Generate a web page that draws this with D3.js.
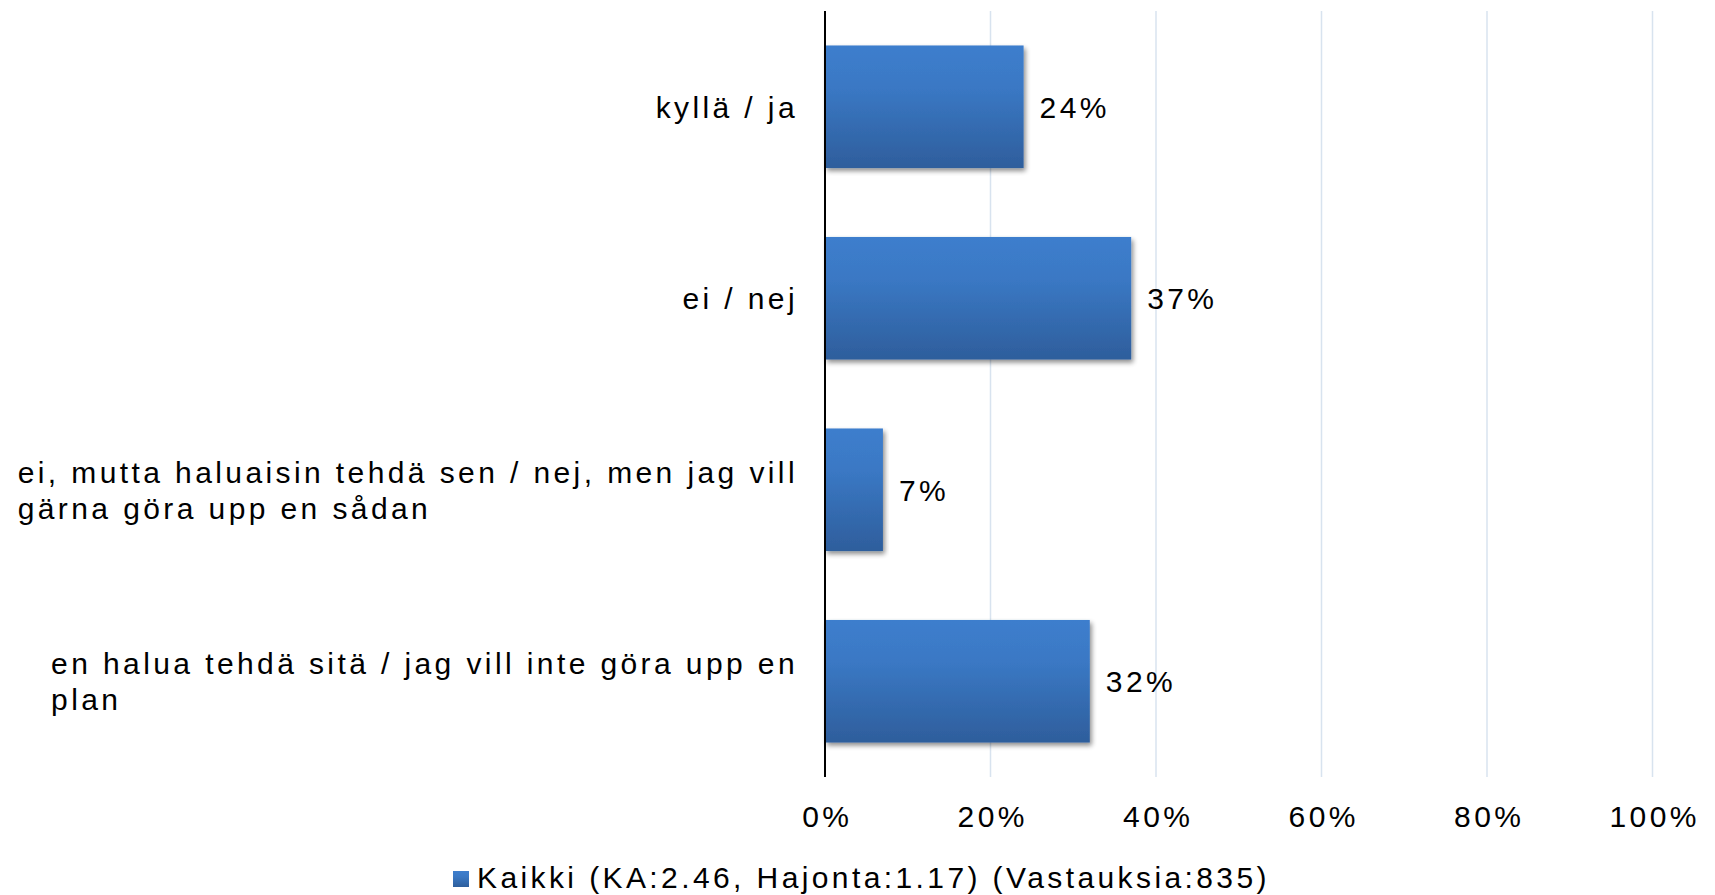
<!DOCTYPE html>
<html>
<head>
<meta charset="utf-8">
<title>Kaikki</title>
<script src="https://cdnjs.cloudflare.com/ajax/libs/d3/7.8.5/d3.min.js"></script>
<style>
  body { margin: 0; background: #fff; }
  text { font-family: "Liberation Sans", Arial, sans-serif; fill: #000; }
</style>
</head>
<body>
<script>
// data
var categories = [
  "kyllä / ja",
  "ei / nej",
  "ei, mutta haluaisin tehdä sen / nej, men jag vill gärna göra upp en sådan",
  "en halua tehdä sitä / jag vill inte göra upp en plan"
];
var values = [24, 37, 7, 32];
var ticks = [0, 20, 40, 60, 80, 100];
var seriesName = "Kaikki (KA:2.46, Hajonta:1.17) (Vastauksia:835)";

// size
var w = 1715, h = 895;
var margin = {top: 11, right: 62.5, bottom: 118, left: 825};
var fontSize = 30, spacing = 3.4;

var svg = d3.select("body").append("svg")
  .attr("width", w)
  .attr("height", h);

var defs = svg.append("defs");
var grad = defs.append("linearGradient")
  .attr("id", "barGrad")
  .attr("x1", 0).attr("y1", 0).attr("x2", 0).attr("y2", 1);
grad.append("stop").attr("offset", "0%").attr("stop-color", "#3d7ecd");
grad.append("stop").attr("offset", "35%").attr("stop-color", "#3a78c4");
grad.append("stop").attr("offset", "100%").attr("stop-color", "#2e5e9c");

var shadow = defs.append("filter").attr("id", "shadow")
  .attr("x", "-5%").attr("y", "-5%").attr("width", "115%").attr("height", "125%");
shadow.append("feGaussianBlur").attr("in", "SourceAlpha").attr("stdDeviation", 2.5).attr("result", "b");
shadow.append("feOffset").attr("in", "b").attr("dx", 2).attr("dy", 3).attr("result", "o");
shadow.append("feComponentTransfer").attr("in", "o").attr("result", "s")
  .append("feFuncA").attr("type", "linear").attr("slope", 0.45);
var merge = shadow.append("feMerge");
merge.append("feMergeNode").attr("in", "s");
merge.append("feMergeNode").attr("in", "SourceGraphic");

var x = d3.scaleLinear()
  .domain([0, 100])
  .range([margin.left, w - margin.right]);

var y = d3.scaleBand()
  .domain(categories)
  .range([margin.top, h - margin.bottom])
  .paddingInner(0.36)
  .paddingOuter(0.18);

// gridlines
svg.append("g")
  .selectAll("line")
  .data(ticks.filter(function(t) { return t > 0; }))
  .enter().append("line")
  .attr("x1", function(d) { return x(d); })
  .attr("x2", function(d) { return x(d); })
  .attr("y1", margin.top)
  .attr("y2", h - margin.bottom)
  .attr("stroke", "#d8e3ef")
  .attr("stroke-width", 1.5);

// x axis labels
var xAxis = d3.axisBottom(x)
  .tickValues(ticks)
  .tickFormat(function(d) { return d + "%"; })
  .tickSize(0)
  .tickPadding(0);
var gx = svg.append("g")
  .attr("transform", "translate(0," + (h - margin.bottom) + ")")
  .call(xAxis);
gx.select(".domain").remove();
gx.selectAll("text")
  .attr("font-size", fontSize)
  .attr("letter-spacing", spacing)
  .attr("dx", spacing / 2)
  .attr("y", 50)
  .attr("dy", 0)
  .style("font-family", "'Liberation Sans', Arial, sans-serif")
  .attr("fill", "#000");

// bars
svg.append("g")
  .selectAll("rect")
  .data(values)
  .enter().append("rect")
  .attr("x", x(0))
  .attr("y", function(d, i) { return y(categories[i]); })
  .attr("width", function(d) { return x(d) - x(0); })
  .attr("height", y.bandwidth())
  .attr("fill", "url(#barGrad)")
  .attr("filter", "url(#shadow)");

// value labels
svg.append("g")
  .selectAll("text")
  .data(values)
  .enter().append("text")
  .attr("x", function(d) { return x(d) + 16; })
  .attr("y", function(d, i) { return y(categories[i]) + y.bandwidth() / 2 + 11; })
  .attr("font-size", fontSize)
  .attr("letter-spacing", spacing)
  .text(function(d) { return d + "%"; });

// vertical axis line
svg.append("line")
  .attr("x1", x(0)).attr("x2", x(0))
  .attr("y1", margin.top).attr("y2", h - margin.bottom)
  .attr("stroke", "#000")
  .attr("stroke-width", 2);

// category labels, wrapped, block right aligned
var labelRight = 798, maxWidth = 810, lineH = 36;
categories.forEach(function(cat) {
  var t = svg.append("text")
    .attr("font-size", fontSize)
    .attr("letter-spacing", spacing);
  var words = cat.split(" ");
  var lines = [], line = [];
  var probe = t.append("tspan");
  words.forEach(function(wd) {
    line.push(wd);
    probe.text(line.join(" "));
    if (probe.node().getComputedTextLength() > maxWidth && line.length > 1) {
      line.pop();
      lines.push(line.join(" "));
      line = [wd];
    }
  });
  lines.push(line.join(" "));
  probe.remove();

  var widths = lines.map(function(l) {
    var s = t.append("tspan").text(l);
    var wd = s.node().getComputedTextLength();
    s.remove();
    return wd;
  });
  var bw = d3.max(widths);
  var cy = y(cat) + y.bandwidth() / 2;
  var n = lines.length;
  lines.forEach(function(l, i) {
    t.append("tspan")
      .attr("x", labelRight - bw)
      .attr("y", cy + 11 + (i - (n - 1) / 2) * lineH)
      .text(l);
  });
});

// legend
var leg = svg.append("g").attr("transform", "translate(453,871)");
leg.append("rect")
  .attr("width", 16).attr("height", 16)
  .attr("fill", "url(#barGrad)");
leg.append("text")
  .attr("x", 24)
  .attr("y", 17)
  .attr("font-size", fontSize)
  .attr("letter-spacing", spacing)
  .text(seriesName);
</script>
</body>
</html>
